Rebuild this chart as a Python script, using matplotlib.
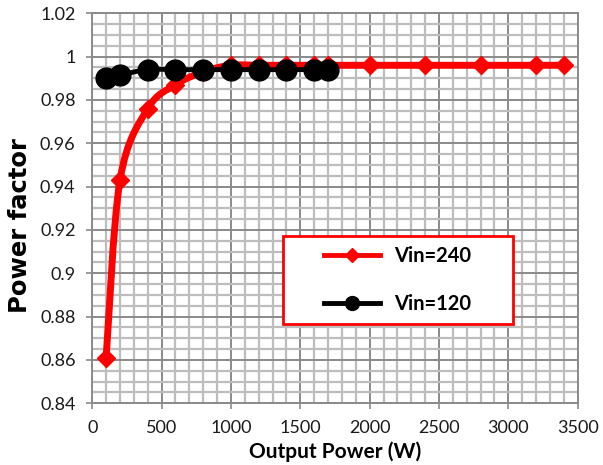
import numpy as np
import matplotlib
matplotlib.use("Agg")
import matplotlib.pyplot as plt
from matplotlib.path import Path
from matplotlib.patches import PathPatch, Rectangle
from matplotlib.lines import Line2D
from matplotlib.ticker import MultipleLocator

plt.rcParams['font.family'] = ['Lato', 'DejaVu Sans']

# ---- data ----
x_240 = [100, 200, 400, 600, 800, 1000, 1200, 1400, 1600, 1700, 2000, 2400, 2800, 3200, 3400]
pf_240 = [0.861, 0.943, 0.976, 0.987, 0.993, 0.996, 0.996, 0.996, 0.996, 0.996, 0.996, 0.996, 0.996, 0.996, 0.996]
x_120 = [100, 200, 400, 600, 800, 1000, 1200, 1400, 1600, 1700]
pf_120 = [0.990, 0.9915, 0.994, 0.994, 0.994, 0.994, 0.994, 0.994, 0.994, 0.994]
labels = ["Vin=240", "Vin=120"]
xticks = [0, 500, 1000, 1500, 2000, 2500, 3000, 3500]
yticks = [0.84, 0.86, 0.88, 0.9, 0.92, 0.94, 0.96, 0.98, 1.0, 1.02]
ytick_labels = ["0.84", "0.86", "0.88", "0.9", "0.92", "0.94", "0.96", "0.98", "1", "1.02"]


def smooth_path(xs, ys):
    """Excel-like smoothed line: cubic Bezier segments (Catmull-Rom control points)."""
    P = np.column_stack([xs, ys]).astype(float)
    n = len(P)
    verts = [P[0]]
    codes = [Path.MOVETO]
    for i in range(n - 1):
        p0 = P[i - 1] if i > 0 else P[i]
        p1 = P[i]
        p2 = P[i + 1]
        p3 = P[i + 2] if i + 2 < n else P[i + 1]
        c1 = p1 + (p2 - p0) / 6.0
        c2 = p2 - (p3 - p1) / 6.0
        verts += [c1, c2, p2]
        codes += [Path.CURVE4] * 3
    return Path(np.array(verts), codes)


fig = plt.figure(figsize=(6.03, 4.65), dpi=100)
ax = fig.add_axes([0.153, 0.1327, 0.805, 0.8387])

ax.set_xlim(0, 3500)
ax.set_ylim(0.84, 1.02)

# grid
ax.xaxis.set_major_locator(MultipleLocator(500))
ax.xaxis.set_minor_locator(MultipleLocator(100))
ax.yaxis.set_major_locator(MultipleLocator(0.02))
ax.yaxis.set_minor_locator(MultipleLocator(0.005))
ax.set_xticks(xticks)
ax.set_yticks(yticks)
ax.set_yticklabels(ytick_labels)
ax.grid(which='minor', color='#bdbdbd', linewidth=1.6, zorder=0)
ax.grid(which='major', color='#8a8a8a', linewidth=1.4, zorder=0)
ax.set_axisbelow(True)

for s in ax.spines.values():
    s.set_color('#8a8a8a')
    s.set_linewidth(1.4)

ax.tick_params(which='major', direction='out', length=4, width=1.2, color='#8a8a8a',
               labelsize=13, pad=8, labelcolor='#1a1a1a')
ax.tick_params(which='minor', length=0)

# red series (Vin=240)
ax.add_patch(PathPatch(smooth_path(x_240, pf_240), transform=ax.transData, fill=False,
                       edgecolor='#ff0000', linewidth=5, capstyle='round', joinstyle='round', zorder=3))
ax.plot(x_240, pf_240, linestyle='none', marker='D', markersize=9.5, color='#ff0000',
        markeredgecolor='#ff0000', zorder=4)

# black series (Vin=120)
ax.add_patch(PathPatch(smooth_path(x_120, pf_120), transform=ax.transData, fill=False,
                       edgecolor='black', linewidth=3.5, capstyle='round', joinstyle='round', zorder=5))
ax.plot(x_120, pf_120, linestyle='none', marker='o', markersize=15, color='black', zorder=6)

ax.set_xlabel("Output Power (W)", fontsize=15, fontweight='bold', labelpad=4)
ax.set_ylabel("Power factor", fontsize=17.5, fontweight='bold',
              family=['DejaVu Sans'])
ax.yaxis.set_label_coords(-0.124, 0.457)

# legend box
ax.add_patch(Rectangle((0.392, 0.2026), 0.475, 0.2271, transform=ax.transAxes,
                       facecolor='white', edgecolor='#ff0000', linewidth=2, zorder=7))
handles = [
    Line2D([], [], color='#ff0000', linewidth=3.5, marker='D', markersize=7),
    Line2D([], [], color='black', linewidth=3.5, marker='o', markersize=10),
]
leg = ax.legend(handles, labels, loc='center', bbox_to_anchor=(0.392 + 0.475 / 2, 0.2026 + 0.2271 / 2),
                frameon=False, prop={'size': 14.5, 'weight': 'bold'}, handlelength=2.8,
                handletextpad=0.7, labelspacing=1.4)
leg.set_zorder(8)

fig.savefig("out.png", dpi=100)
